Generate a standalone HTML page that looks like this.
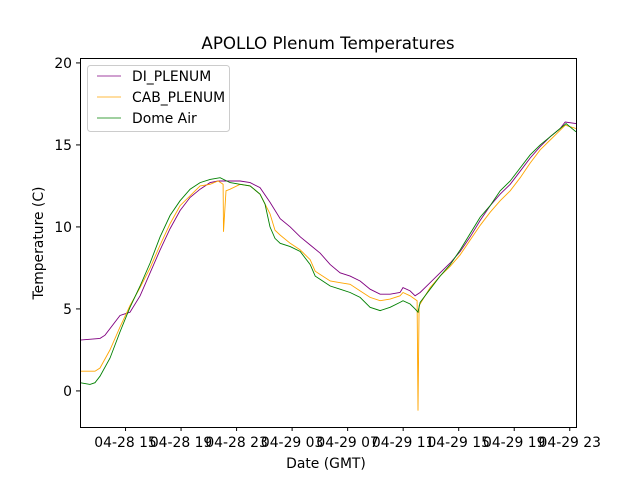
<!DOCTYPE html>
<html><head><meta charset="utf-8"><style>body{margin:0;background:#fff}svg{display:block;font-family:"DejaVu Sans","Liberation Sans",sans-serif}</style></head>
<body>
<svg id="chart" width="640" height="480" viewBox="0 0 640 480">
<rect width="640" height="480" fill="#fff"/>
<text x="328" y="49" font-size="16.7" text-anchor="middle">APOLLO Plenum Temperatures</text>
<g id="plot"></g>
<rect x="80.5" y="58.5" width="496" height="369" fill="none" stroke="#000" stroke-width="1"/>
<text x="326" y="468" font-size="13.9" text-anchor="middle">Date (GMT)</text>
<text transform="translate(43,243) rotate(-90)" font-size="13.9" text-anchor="middle">Temperature (C)</text>
<g id="ticks"></g>
<g>
<rect x="87.5" y="65.5" width="142" height="66" rx="3" fill="#fff" fill-opacity="0.8" stroke="#ccc"/>
<line x1="97" y1="76" x2="121" y2="76" stroke="purple" stroke-width="0.8"/>
<text x="132" y="81" font-size="13.9">DI_PLENUM</text>
<line x1="97" y1="97" x2="121" y2="97" stroke="orange" stroke-width="0.8"/>
<text x="132" y="102" font-size="13.9">CAB_PLENUM</text>
<line x1="97" y1="118" x2="121" y2="118" stroke="green" stroke-width="0.8"/>
<text x="132" y="123" font-size="13.9">Dome Air</text>
</g>
</svg>
<script>
const diHours=[11.72,13.16,13.52,14.60,14.96,15.32,16.05,16.77,17.49,18.21,18.93,19.65,20.37,21.09,21.67,22.53,23.25,23.97,24.69,25.41,26.14,26.86,27.58,28.30,29.02,29.74,30.46,31.18,31.90,32.62,33.34,34.06,34.77,34.99,35.50,35.86,36.22,36.94,37.66,38.39,39.11,39.83,40.55,41.27,41.99,42.71,43.43,44.15,44.87,45.59,46.31,46.67,47.45];
const diValues=[3.1,3.2,3.4,4.6,4.7,4.8,5.8,7.2,8.6,9.9,11.0,11.8,12.3,12.7,12.8,12.8,12.8,12.7,12.4,11.5,10.5,10.0,9.4,8.9,8.4,7.7,7.2,7.0,6.7,6.2,5.9,5.9,6.0,6.3,6.1,5.8,6.0,6.6,7.2,7.8,8.5,9.4,10.4,11.3,12.0,12.6,13.4,14.2,14.9,15.5,16.0,16.4,16.3];
const cabHours=[11.72,12.80,13.16,13.88,14.60,15.32,16.05,16.77,17.49,18.21,18.93,19.65,20.37,21.09,21.67,22.03,22.06,22.24,22.53,23.25,23.97,24.69,25.41,25.77,26.14,26.86,27.58,28.30,28.66,29.02,29.74,30.46,31.18,31.90,32.62,33.34,34.06,34.77,34.99,35.50,36.00,36.07,36.15,36.58,36.94,37.66,38.39,39.11,39.83,40.55,41.27,41.99,42.71,43.43,44.15,44.87,45.59,46.31,46.67,47.45];
const cabValues=[1.2,1.2,1.4,2.5,3.9,5.2,6.3,7.5,8.9,10.2,11.3,11.9,12.5,12.6,12.8,12.6,9.7,12.2,12.3,12.6,12.5,12.0,10.8,9.8,9.5,9.0,8.6,8.0,7.3,7.1,6.7,6.6,6.5,6.1,5.7,5.5,5.6,5.8,6.0,5.8,5.5,-1.2,5.2,5.8,6.3,7.0,7.6,8.3,9.2,10.1,10.9,11.6,12.2,13.0,13.9,14.7,15.3,15.9,16.2,16.0];
const domeHours=[11.72,12.44,12.80,13.16,13.88,14.60,15.32,16.05,16.77,17.49,18.21,18.93,19.65,20.37,21.09,21.81,22.53,23.25,23.97,24.69,25.05,25.41,25.77,26.14,26.86,27.58,28.30,28.66,29.02,29.74,30.46,31.18,31.90,32.62,33.34,34.06,34.77,34.99,35.50,35.86,36.07,36.22,36.94,37.66,38.39,39.11,39.83,40.55,41.27,41.99,42.71,43.43,44.15,44.87,45.59,46.31,46.74,47.45];
const domeValues=[0.5,0.4,0.5,0.9,2.0,3.6,5.1,6.4,7.8,9.4,10.7,11.6,12.3,12.7,12.9,13.0,12.7,12.6,12.5,12.0,11.4,10.0,9.3,9.0,8.8,8.5,7.7,7.0,6.8,6.4,6.2,6.0,5.7,5.1,4.9,5.1,5.4,5.5,5.3,5.0,4.8,5.4,6.2,7.0,7.7,8.6,9.6,10.6,11.3,12.2,12.8,13.6,14.4,15.0,15.5,16.0,16.3,15.8];
const xTickHours=[15,19,23,27,31,35,39,43,47];
const xTickLabels=["04-28 15","04-28 19","04-28 23","04-29 03","04-29 07","04-29 11","04-29 15","04-29 19","04-29 23"];
const yTicks=[0,5,10,15,20];

const X0=80,X1=576,Y0=427,Y1=58,xmin=11.72,xmax=47.45,ymin=-2.2,ymax=20.3;
const sx=h=>X0+(h-xmin)/(xmax-xmin)*(X1-X0);
const sy=v=>Y0-(v-ymin)/(ymax-ymin)*(Y0-Y1);
const NS="http://www.w3.org/2000/svg";
const plot=document.getElementById('plot');
function line(hours,vals,color,name){
  const p=document.createElementNS(NS,'polyline');
  p.setAttribute('points',hours.map((h,i)=>sx(h).toFixed(1)+','+sy(vals[i]).toFixed(1)).join(' '));
  p.setAttribute('fill','none');p.setAttribute('stroke',color);p.setAttribute('stroke-width','0.9');
  
  
  plot.appendChild(p);
}
line(diHours,diValues,'purple','series-di-plenum');
line(cabHours,cabValues,'orange','series-cab-plenum');
line(domeHours,domeValues,'green','series-dome-air');
const tg=document.getElementById('ticks');
xTickHours.forEach((h,i)=>{
  const x=sx(h);
  const l=document.createElementNS(NS,'line');
  l.setAttribute('x1',x);l.setAttribute('x2',x);l.setAttribute('y1',427);l.setAttribute('y2',431);l.setAttribute('stroke','#000');
  
  
  tg.appendChild(l);
  const t=document.createElementNS(NS,'text');
  t.setAttribute('x',x);t.setAttribute('y',447);t.setAttribute('font-size','13.9');t.setAttribute('text-anchor','middle');
  t.textContent=xTickLabels[i];
  
  
  tg.appendChild(t);
});
yTicks.forEach(v=>{
  const y=sy(v);
  const l=document.createElementNS(NS,'line');
  l.setAttribute('x1',76);l.setAttribute('x2',80);l.setAttribute('y1',y);l.setAttribute('y2',y);l.setAttribute('stroke','#000');
  
  
  tg.appendChild(l);
  const t=document.createElementNS(NS,'text');
  t.setAttribute('x',72);t.setAttribute('y',y+5);t.setAttribute('font-size','13.9');t.setAttribute('text-anchor','end');
  t.textContent=v;
  
  
  tg.appendChild(t);
});
</script>
</body></html>
